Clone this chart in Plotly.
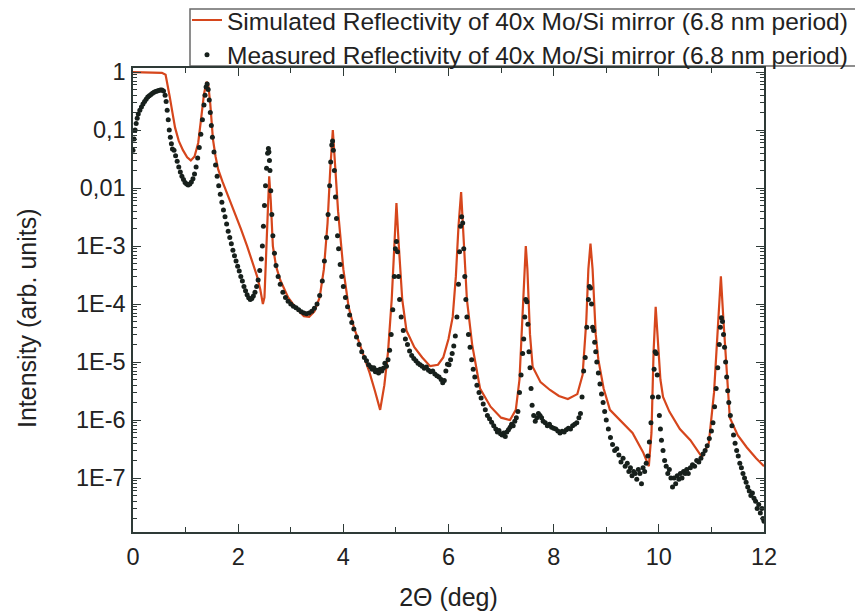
import plotly.graph_objects as go

# ---------------- data ----------------
sim_theta = [0.00, 0.30, 0.55, 0.62, 0.66, 0.70, 0.75, 0.80, 0.87, 0.95, 1.03, 1.10, 1.17, 1.24, 1.30, 1.35, 1.40, 1.43,
             1.47, 1.52, 1.57, 1.62, 1.70, 1.78, 1.85, 1.95, 2.05, 2.17, 2.27, 2.36, 2.42, 2.47, 2.50, 2.53, 2.56, 2.59,
             2.62, 2.66, 2.72, 2.80, 2.95, 3.10, 3.25, 3.35, 3.45, 3.55, 3.63, 3.70, 3.75, 3.80, 3.85, 3.90, 4.00, 4.10,
             4.20, 4.35, 4.50, 4.60, 4.70, 4.78, 4.85, 4.92, 4.97, 5.01, 5.05, 5.12, 5.20, 5.35, 5.50, 5.65, 5.80, 5.90,
             6.00, 6.08, 6.14, 6.19, 6.24, 6.28, 6.35, 6.45, 6.60, 6.80, 7.00, 7.17, 7.28, 7.35, 7.40, 7.44, 7.47, 7.50,
             7.55, 7.60, 7.75, 7.93, 8.10, 8.27, 8.45, 8.55, 8.62, 8.66, 8.70, 8.74, 8.80, 8.85, 8.95, 9.07, 9.30, 9.50,
             9.70, 9.81, 9.86, 9.90, 9.94, 9.98, 10.03, 10.08, 10.20, 10.40, 10.60, 10.82, 10.95, 11.05, 11.12, 11.18,
             11.23, 11.30, 11.35, 11.50, 11.67, 11.85, 12.00]
sim_intensity = [1.0, 0.99, 0.97, 0.9, 0.6, 0.37, 0.2, 0.11, 0.065, 0.045, 0.034, 0.030, 0.035, 0.06, 0.17, 0.42, 0.68, 0.62,
                 0.28, 0.07, 0.035, 0.021, 0.013, 0.0085, 0.006, 0.0035, 0.002, 0.001, 0.00055, 0.0003, 0.00018, 0.0001, 0.00013, 0.0007, 0.005, 0.016,
                 0.006, 0.001, 0.00045, 0.00026, 0.00013, 8.5e-5, 6.2e-5, 6.0e-5, 7.5e-5, 1.3e-4, 4.0e-4, 2.5e-3, 0.02, 0.10, 0.02, 4.0e-3, 4.0e-4, 9.0e-5,
                 4.0e-5, 1.6e-5, 6.5e-6, 3.2e-6, 1.5e-6, 4.0e-6, 1.5e-5, 1.2e-4, 1.5e-3, 5.5e-3, 1.2e-3, 1.2e-4, 3.5e-5, 1.8e-5, 1.2e-5, 8.5e-6, 9.0e-6, 1.2e-5,
                 2.5e-5, 6.0e-5, 3.0e-4, 2.2e-3, 8.5e-3, 2.0e-3, 1.2e-4, 2.0e-5, 3.5e-6, 1.7e-6, 1.1e-6, 1.0e-6, 1.5e-6, 5.0e-6, 5.0e-5, 4.0e-4, 1.0e-3, 4.0e-4,
                 3.0e-5, 8.3e-6, 4.5e-6, 3.3e-6, 2.6e-6, 2.3e-6, 2.8e-6, 6.0e-6, 5.0e-5, 4.0e-4, 1.1e-3, 4.0e-4, 3.0e-5, 1.1e-5, 3.5e-6, 1.5e-6, 9.0e-7, 6.0e-7,
                 2.8e-7, 1.6e-7, 6.0e-7, 1.5e-5, 9.0e-5, 2.0e-5, 5.0e-6, 2.5e-6, 1.4e-6, 7.0e-7, 4.5e-7, 2.3e-7, 4.0e-7, 3.0e-6, 3.0e-5, 3.0e-4,
                 5.0e-5, 4.0e-6, 1.1e-6, 5.5e-7, 3.4e-7, 2.2e-7, 1.6e-7]

meas_theta = [
    # 0 - 1.41
    0.00, 0.02, 0.04, 0.06, 0.08, 0.10, 0.13, 0.16, 0.19, 0.22, 0.25, 0.28, 0.31, 0.34, 0.37, 0.40, 0.43, 0.46, 0.49, 0.52,
    0.55, 0.58, 0.61, 0.63, 0.65, 0.67, 0.69, 0.71, 0.73, 0.75, 0.78, 0.81, 0.84, 0.87, 0.90, 0.93, 0.96, 0.99, 1.02, 1.05,
    1.08, 1.11, 1.14, 1.17, 1.20, 1.23, 1.26, 1.29, 1.32, 1.35, 1.37, 1.39, 1.41,
    # 1.43 - 2.605
    1.43, 1.45, 1.47, 1.49, 1.51, 1.54, 1.57, 1.60, 1.63, 1.66, 1.69, 1.72, 1.75, 1.78, 1.81, 1.84, 1.87, 1.90, 1.93, 1.96,
    1.99, 2.02, 2.05, 2.08, 2.11, 2.14, 2.17, 2.20, 2.23, 2.26, 2.29, 2.32, 2.35, 2.38, 2.41, 2.44, 2.46, 2.48, 2.50, 2.52,
    2.54, 2.56, 2.575, 2.585, 2.595, 2.605,
    # 2.62 - 3.81
    2.62, 2.64, 2.66, 2.69, 2.72, 2.76, 2.80, 2.85, 2.90, 2.95, 3.00, 3.05, 3.10, 3.15, 3.20, 3.25, 3.30, 3.35, 3.40, 3.45,
    3.50, 3.55, 3.60, 3.64, 3.68, 3.71, 3.74, 3.76, 3.78, 3.795, 3.81,
    # 3.83 - 5.03
    3.83, 3.85, 3.87, 3.89, 3.91, 3.94, 3.97, 4.00, 4.04, 4.08, 4.12, 4.16, 4.20, 4.25, 4.30, 4.35, 4.40, 4.44, 4.48, 4.52,
    4.55, 4.58, 4.61, 4.64, 4.67, 4.70, 4.73, 4.76, 4.79, 4.82, 4.85, 4.88, 4.91, 4.94, 4.97, 4.99, 5.01, 5.03,
    # 5.05 - 6.29
    5.05, 5.07, 5.10, 5.14, 5.18, 5.22, 5.26, 5.30, 5.34, 5.38, 5.42, 5.46, 5.50, 5.54, 5.58, 5.62, 5.66, 5.70, 5.74, 5.78,
    5.82, 5.86, 5.89, 5.92, 5.95, 5.98, 6.01, 6.04, 6.07, 6.10, 6.13, 6.16, 6.19, 6.21, 6.23, 6.25, 6.27, 6.29,
    # 6.31 - 7.53
    6.31, 6.33, 6.35, 6.38, 6.41, 6.44, 6.47, 6.50, 6.54, 6.58, 6.62, 6.66, 6.70, 6.74, 6.78, 6.82, 6.86, 6.90, 6.93, 6.96,
    6.99, 7.02, 7.05, 7.08, 7.11, 7.14, 7.17, 7.20, 7.23, 7.26, 7.29, 7.32, 7.35, 7.38, 7.41, 7.43, 7.45, 7.47, 7.49, 7.51,
    7.53,
    # 7.55 - 8.74
    7.55, 7.57, 7.59, 7.62, 7.65, 7.68, 7.71, 7.74, 7.77, 7.80, 7.84, 7.88, 7.92, 7.96, 8.00, 8.04, 8.08, 8.12, 8.16, 8.20,
    8.24, 8.28, 8.32, 8.36, 8.40, 8.44, 8.48, 8.51, 8.54, 8.57, 8.60, 8.63, 8.66, 8.68, 8.70, 8.72, 8.74,
    # 8.76 - 9.97
    8.76, 8.78, 8.80, 8.82, 8.85, 8.88, 8.91, 8.94, 8.97, 9.00, 9.04, 9.08, 9.12, 9.16, 9.20, 9.24, 9.28, 9.32, 9.36, 9.40,
    9.43, 9.46, 9.49, 9.52, 9.55, 9.58, 9.61, 9.64, 9.67, 9.70, 9.73, 9.76, 9.79, 9.82, 9.85, 9.88, 9.91, 9.93, 9.95, 9.97,
    # 9.99 - 11.23
    9.99, 10.01, 10.03, 10.05, 10.08, 10.11, 10.14, 10.17, 10.20, 10.23, 10.26, 10.29, 10.32, 10.35, 10.38, 10.41, 10.44,
    10.47, 10.50, 10.53, 10.56, 10.60, 10.64, 10.68, 10.72, 10.76, 10.80, 10.84, 10.88, 10.92, 10.96, 11.00, 11.03, 11.06,
    11.09, 11.12, 11.15, 11.17, 11.19, 11.21, 11.23,
    # 11.25 - 12
    11.25, 11.27, 11.29, 11.31, 11.33, 11.36, 11.39, 11.42, 11.45, 11.48, 11.51, 11.54, 11.57, 11.60, 11.63, 11.66, 11.69,
    11.72, 11.75, 11.78, 11.81, 11.84, 11.87, 11.90, 11.93, 11.96, 11.98, 12.00,
]
meas_intensity = [
    0.045, 0.07, 0.10, 0.13, 0.16, 0.19, 0.22, 0.25, 0.28, 0.31, 0.34, 0.37, 0.39, 0.41, 0.43, 0.45, 0.46, 0.47, 0.48, 0.49,
    0.49, 0.47, 0.40, 0.31, 0.22, 0.15, 0.10, 0.075, 0.058, 0.047, 0.045, 0.036, 0.029, 0.023, 0.019, 0.016, 0.014, 0.0125, 0.0117, 0.0113,
    0.0117, 0.0127, 0.0145, 0.0175, 0.023, 0.033, 0.05, 0.085, 0.15, 0.27, 0.40, 0.55, 0.62,
    0.50, 0.33, 0.20, 0.12, 0.075, 0.042, 0.025, 0.016, 0.011, 0.0078, 0.0057, 0.0042, 0.0032, 0.0024, 0.0018, 0.0014, 0.0011, 8.5e-4, 6.8e-4, 5.5e-4,
    4.5e-4, 3.7e-4, 3.0e-4, 2.5e-4, 2.0e-4, 1.7e-4, 1.45e-4, 1.28e-4, 1.2e-4, 1.25e-4, 1.38e-4, 1.6e-4, 2.0e-4, 2.6e-4, 3.8e-4, 6.0e-4, 1.0e-3, 2.2e-3, 5.0e-3, 0.011,
    0.022, 0.04, 0.048, 0.042, 0.03, 0.02,
    0.009, 3.5e-3, 1.5e-3, 7.5e-4, 4.6e-4, 3.0e-4, 2.2e-4, 1.6e-4, 1.3e-4, 1.12e-4, 1.0e-4, 9.2e-5, 8.6e-5, 8.0e-5, 7.4e-5, 7.0e-5, 6.8e-5, 7.0e-5, 7.5e-5, 8.5e-5,
    1.0e-4, 1.4e-4, 2.5e-4, 5.5e-4, 1.4e-3, 3.5e-3, 0.011, 0.028, 0.055, 0.065, 0.045,
    0.02, 7.0e-3, 3.0e-3, 1.5e-3, 9.0e-4, 4.8e-4, 3.0e-4, 2.0e-4, 1.3e-4, 9.0e-5, 6.5e-5, 4.8e-5, 3.7e-5, 2.7e-5, 2.0e-5, 1.5e-5, 1.2e-5, 1.05e-5, 9.0e-6, 8.2e-6,
    7.5e-6, 8.0e-6, 6.8e-6, 7.2e-6, 6.5e-6, 7.5e-6, 7.0e-6, 7.8e-6, 9.5e-6, 8.5e-6, 1.1e-5, 1.6e-5, 3.0e-5, 8.0e-5, 3.0e-4, 9.0e-4, 1.2e-3, 8.0e-4,
    3.0e-4, 1.2e-4, 6.0e-5, 3.5e-5, 2.5e-5, 2.0e-5, 1.55e-5, 1.3e-5, 1.15e-5, 1.05e-5, 9.5e-6, 9.0e-6, 8.5e-6, 7.8e-6, 8.2e-6, 7.2e-6, 6.8e-6, 7.0e-6, 6.2e-6, 5.8e-6,
    5.5e-6, 5.0e-6, 4.4e-6, 4.8e-6, 7.0e-6, 9.2e-6, 9.0e-6, 1.1e-5, 1.4e-5, 1.9e-5, 2.8e-5, 6.0e-5, 2.2e-4, 8.0e-4, 2.2e-3, 3.2e-3, 2.5e-3, 9.0e-4,
    3.0e-4, 1.2e-4, 6.0e-5, 3.0e-5, 1.8e-5, 1.1e-5, 7.5e-6, 5.5e-6, 4.0e-6, 3.0e-6, 2.4e-6, 1.9e-6, 1.5e-6, 1.2e-6, 1.05e-6, 9.2e-7, 8.0e-7, 7.0e-7, 6.2e-7, 6.6e-7,
    5.8e-7, 5.5e-7, 6.0e-7, 5.2e-7, 6.2e-7, 6.8e-7, 7.5e-7, 8.5e-7, 8.0e-7, 9.5e-7, 1.1e-6, 1.4e-6, 3.0e-6, 6.0e-6, 1.4e-5, 2.5e-5, 6.0e-5, 1.2e-4, 1.1e-4, 4.5e-5,
    1.5e-5,
    8.0e-6, 3.5e-6, 1.8e-6, 1.2e-6, 9.5e-7, 1.1e-6, 1.3e-6, 1.2e-6, 1.1e-6, 9.5e-7, 9.0e-7, 8.0e-7, 8.5e-7, 7.5e-7, 7.2e-7, 7.0e-7, 6.5e-7, 6.0e-7, 6.4e-7, 6.2e-7,
    6.8e-7, 7.2e-7, 7.0e-7, 8.0e-7, 8.5e-7, 9.0e-7, 1.1e-6, 1.3e-6, 2.5e-6, 7.0e-6, 1.2e-5, 4.0e-5, 1.2e-4, 2.0e-4, 1.9e-4, 1.0e-4, 4.0e-5,
    3.5e-5, 2.2e-5, 1.5e-5, 1.0e-5, 6.5e-6, 4.2e-6, 2.8e-6, 2.0e-6, 1.4e-6, 1.0e-6, 7.0e-7, 5.0e-7, 3.8e-7, 3.0e-7, 3.2e-7, 2.5e-7, 1.9e-7, 2.2e-7, 1.6e-7, 1.8e-7,
    1.3e-7, 1.5e-7, 1.1e-7, 1.3e-7, 1.2e-7, 9.5e-8, 1.4e-7, 1.2e-7, 8.0e-8, 1.5e-7, 1.3e-7, 1.8e-7, 2.4e-7, 4.2e-7, 9.0e-7, 2.5e-6, 7.5e-6, 1.5e-5, 1.4e-5, 6.0e-6,
    2.5e-6, 1.2e-6, 7.0e-7, 4.5e-7, 3.0e-7, 2.0e-7, 1.6e-7, 1.2e-7, 1.4e-7, 1.0e-7, 7.0e-8, 1.0e-7, 8.0e-8, 1.1e-7, 9.5e-8, 1.2e-7, 1.0e-7,
    1.3e-7, 1.2e-7, 1.4e-7, 1.2e-7, 1.5e-7, 1.7e-7, 1.6e-7, 2.0e-7, 1.9e-7, 2.2e-7, 2.6e-7, 3.0e-7, 3.6e-7, 4.8e-7, 6.5e-7, 9.0e-7, 1.7e-6,
    3.5e-6, 8.0e-6, 2.0e-5, 4.0e-5, 5.8e-5, 5.0e-5, 3.0e-5,
    1.8e-5, 1.0e-5, 5.5e-6, 3.2e-6, 2.0e-6, 1.2e-6, 8.0e-7, 5.5e-7, 4.0e-7, 3.0e-7, 2.4e-7, 1.8e-7, 1.5e-7, 1.2e-7, 1.0e-7, 8.5e-8, 7.0e-8,
    6.0e-8, 5.0e-8, 5.5e-8, 4.5e-8, 4.0e-8, 3.0e-8, 3.5e-8, 2.5e-8, 3.0e-8, 2.0e-8, 1.8e-8,
]

y_tick_vals = [1, 0.1, 0.01, 1e-3, 1e-4, 1e-5, 1e-6, 1e-7]
y_tick_text = ["1", "0,1", "0,01", "1E-3", "1E-4", "1E-5", "1E-6", "1E-7"]
x_tick_vals = [0, 2, 4, 6, 8, 10, 12]

sim_name = "Simulated Reflectivity of 40x Mo/Si mirror (6.8 nm period)"
meas_name = "Measured Reflectivity of 40x Mo/Si mirror (6.8 nm period)"
x_title = "2Θ (deg)"
y_title = "Intensity (arb. units)"

FONT = "Liberation Sans, Arial, Helvetica, sans-serif"
AXIS_COLOR = "#2e3a37"
TEXT_COLOR = "#222222"

# figure is placed 8px from the window corner by the page's default body margin
W, H = 855, 608
ML, MT = 125, 60
PW, PH = 631, 464
MR, MB = W - ML - PW, H - MT - PH
BOTTOM = MT + PH


def px_x(p):
    return (p - ML) / PW


def px_y(p):
    return (BOTTOM - p) / PH


fig = go.Figure()
fig.add_trace(go.Scatter(
    x=sim_theta, y=sim_intensity, mode="lines", name=sim_name,
    line=dict(color="#d6461c", width=2.2),
))
fig.add_trace(go.Scatter(
    x=meas_theta, y=meas_intensity, mode="markers", name=meas_name,
    marker=dict(color="#17201c", size=5, line=dict(width=0)),
))

LEG_FONT = 24.5
item_h = LEG_FONT * 1.3 + 3
leg_top = 12 - 5 - item_h / 2  # first entry centred ~12px below figure top

fig.update_layout(
    width=W, height=H,
    margin=dict(l=ML, r=MR, t=MT, b=MB, autoexpand=False),
    paper_bgcolor="white", plot_bgcolor="white",
    font=dict(family=FONT, color=TEXT_COLOR, size=23),
    showlegend=True,
    legend=dict(
        x=px_x(179), xanchor="left",
        y=px_y(leg_top), yanchor="top",
        bgcolor="rgba(255,255,255,0)", borderwidth=0,
        font=dict(family=FONT, size=LEG_FONT, color=TEXT_COLOR),
        tracegroupgap=0,
    ),
    shapes=[dict(
        type="rect", xref="paper", yref="paper",
        x0=px_x(182), x1=px_x(W + 20),
        y0=px_y(58), y1=px_y(1),
        line=dict(color="#6a6a6a", width=1.5), fillcolor="white", layer="below",
    )],
    annotations=[dict(
        text=y_title, textangle=-90, showarrow=False,
        xref="paper", yref="paper", x=px_x(19), y=px_y(310),
        xanchor="center", yanchor="middle",
        font=dict(family=FONT, size=25, color=TEXT_COLOR),
    )],
)

fig.update_xaxes(
    range=[0, 12], showgrid=False, zeroline=False,
    showline=True, linecolor=AXIS_COLOR, linewidth=1.5, mirror="ticks",
    ticks="inside", ticklen=8, tickwidth=1.2, tickcolor=AXIS_COLOR,
    tickvals=x_tick_vals, tickfont=dict(size=23.5),
    ticklabelstandoff=3,
    minor=dict(ticks="inside", ticklen=5, tickwidth=1.2, tickcolor=AXIS_COLOR, dtick=1, showgrid=False),
    title=dict(text=x_title, font=dict(size=25), standoff=20),
)
fig.update_yaxes(
    type="log", range=[-7.93, 0.07], showgrid=False, zeroline=False,
    showline=True, linecolor=AXIS_COLOR, linewidth=1.5, mirror="ticks",
    ticks="inside", ticklen=8, tickwidth=1.2, tickcolor=AXIS_COLOR,
    tickvals=y_tick_vals, ticktext=y_tick_text, tickfont=dict(size=23.5),
    ticklabelstandoff=1,
    minor=dict(ticks="inside", ticklen=4, tickwidth=1, tickcolor=AXIS_COLOR, dtick="D1", showgrid=False),
)

fig.write_html("out.html")
